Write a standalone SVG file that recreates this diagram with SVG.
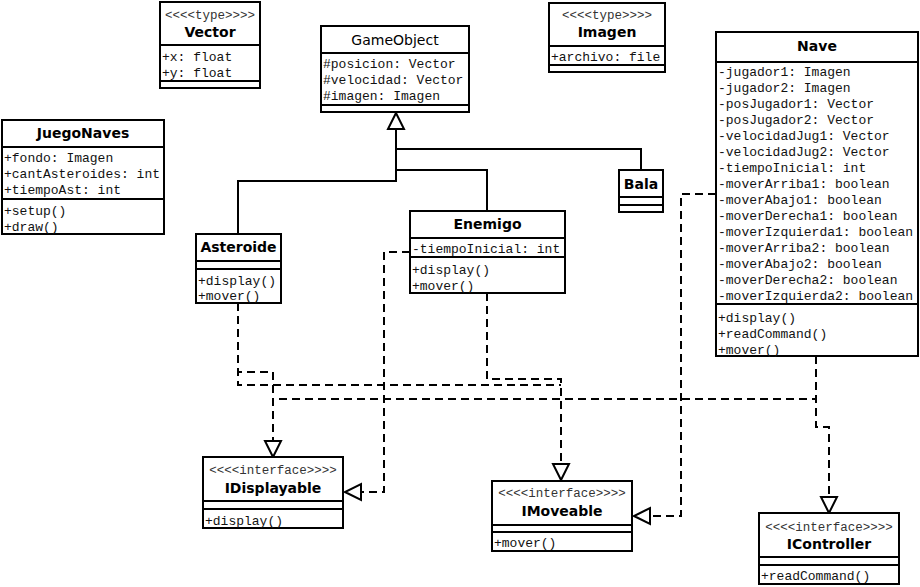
<svg xmlns="http://www.w3.org/2000/svg" width="920" height="587" viewBox="0 0 920 587">
<style>
.box{fill:#fff;stroke:#000;stroke-width:2}
.sep{stroke:#000;stroke-width:2}
.t{font-family:"DejaVu Sans","Liberation Sans",sans-serif;font-weight:bold;font-size:14px;text-anchor:middle;fill:#000}
.tn{font-family:"DejaVu Sans","Liberation Sans",sans-serif;font-size:14px;text-anchor:middle;fill:#000}
.st{font-family:"Liberation Mono","Courier New",monospace;font-size:12.5px;text-anchor:middle;fill:#333}
.m{font-family:"Liberation Mono","Courier New",monospace;font-size:13px;fill:#111}
.gen{fill:none;stroke:#000;stroke-width:2}
.real{fill:none;stroke:#000;stroke-width:2;stroke-dasharray:8 5}
</style>
<defs>
<marker id="tri" markerUnits="userSpaceOnUse" markerWidth="20" markerHeight="20" viewBox="0 0 20 18" refX="17" refY="9" orient="auto">
<path d="M17,9 L1,1 L1,17 Z" fill="#fff" stroke="#000" stroke-width="2" stroke-dasharray="none"/>
</marker>
</defs>

<g id="connectors">
<path class="gen" d="M238,234 V181 H396 V113" marker-end="url(#tri)"/>
<path class="gen" d="M487,211 V170 H396"/>
<path class="gen" d="M641,170 V149 H396"/>
<path class="real" d="M238,303 V372 H273 V457" marker-end="url(#tri)"/>
<path class="real" d="M238,303 V385 H561"/>
<path class="real" d="M487,293 V379 H561 V480" marker-end="url(#tri)"/>
<path class="real" d="M410,252 H384 V492 H345" marker-end="url(#tri)"/>
<path class="real" d="M816,356 V399 H273"/>
<path class="real" d="M716,194 H681 V516 H634" marker-end="url(#tri)"/>
<path class="real" d="M816,356 V427 H829 V513" marker-end="url(#tri)"/>
</g>

<g id="Vector">
<rect class="box" x="160" y="2" width="100" height="86"/>
<line class="sep" x1="160" y1="45" x2="260" y2="45"/>
<line class="sep" x1="160" y1="81" x2="260" y2="81"/>
<text class="st" x="210" y="19">&lt;&lt;&lt;&lt;type&gt;&gt;&gt;&gt;</text>
<text class="t" x="210" y="37">Vector</text>
<text class="m" x="162" y="61">+x: float</text>
<text class="m" x="162" y="77">+y: float</text>
</g>

<g id="JuegoNaves">
<rect class="box" x="2" y="120" width="162" height="114"/>
<line class="sep" x1="2" y1="147" x2="164" y2="147"/>
<line class="sep" x1="2" y1="199" x2="164" y2="199"/>
<text class="t" x="83" y="138">JuegoNaves</text>
<text class="m" x="4" y="162">+fondo: Imagen</text>
<text class="m" x="4" y="178">+cantAsteroides: int</text>
<text class="m" x="4" y="194">+tiempoAst: int</text>
<text class="m" x="4" y="215">+setup()</text>
<text class="m" x="4" y="231">+draw()</text>
</g>

<g id="GameObject">
<rect class="box" x="321" y="26" width="148" height="86"/>
<line class="sep" x1="321" y1="53" x2="469" y2="53"/>
<line class="sep" x1="321" y1="105" x2="469" y2="105"/>
<text class="tn" x="395" y="45">GameObject</text>
<text class="m" x="323" y="68">#posicion: Vector</text>
<text class="m" x="323" y="84">#velocidad: Vector</text>
<text class="m" x="323" y="100">#imagen: Imagen</text>
</g>

<g id="Imagen">
<rect class="box" x="549" y="3" width="116" height="69"/>
<line class="sep" x1="549" y1="46" x2="665" y2="46"/>
<line class="sep" x1="549" y1="65" x2="665" y2="65"/>
<text class="st" x="607" y="19">&lt;&lt;&lt;&lt;type&gt;&gt;&gt;&gt;</text>
<text class="t" x="607" y="37">Imagen</text>
<text class="m" x="551" y="61">+archivo: file</text>
</g>

<g id="Nave">
<rect class="box" x="716" y="32" width="202" height="324"/>
<line class="sep" x1="716" y1="62" x2="918" y2="62"/>
<line class="sep" x1="716" y1="304" x2="918" y2="304"/>
<text class="t" x="817" y="51">Nave</text>
<text class="m" x="718" y="76">-jugador1: Imagen</text>
<text class="m" x="718" y="92">-jugador2: Imagen</text>
<text class="m" x="718" y="108">-posJugador1: Vector</text>
<text class="m" x="718" y="124">-posJugador2: Vector</text>
<text class="m" x="718" y="140">-velocidadJug1: Vector</text>
<text class="m" x="718" y="156">-velocidadJug2: Vector</text>
<text class="m" x="718" y="172">-tiempoInicial: int</text>
<text class="m" x="718" y="188">-moverArriba1: boolean</text>
<text class="m" x="718" y="204">-moverAbajo1: boolean</text>
<text class="m" x="718" y="220">-moverDerecha1: boolean</text>
<text class="m" x="718" y="236">-moverIzquierda1: boolean</text>
<text class="m" x="718" y="252">-moverArriba2: boolean</text>
<text class="m" x="718" y="268">-moverAbajo2: boolean</text>
<text class="m" x="718" y="284">-moverDerecha2: boolean</text>
<text class="m" x="718" y="300">-moverIzquierda2: boolean</text>
<text class="m" x="718" y="322">+display()</text>
<text class="m" x="718" y="338">+readCommand()</text>
<text class="m" x="718" y="354">+mover()</text>
</g>

<g id="Asteroide">
<rect class="box" x="196" y="234" width="85" height="69"/>
<line class="sep" x1="196" y1="261" x2="281" y2="261"/>
<line class="sep" x1="196" y1="269" x2="281" y2="269"/>
<text class="t" x="238.5" y="252">Asteroide</text>
<text class="m" x="198" y="285">+display()</text>
<text class="m" x="198" y="300">+mover()</text>
</g>

<g id="Enemigo">
<rect class="box" x="410" y="211" width="155" height="82"/>
<line class="sep" x1="410" y1="238" x2="565" y2="238"/>
<line class="sep" x1="410" y1="257" x2="565" y2="257"/>
<text class="t" x="487.5" y="229">Enemigo</text>
<text class="m" x="412" y="253">-tiempoInicial: int</text>
<text class="m" x="412" y="274">+display()</text>
<text class="m" x="412" y="290">+mover()</text>
</g>

<g id="Bala">
<rect class="box" x="619" y="170" width="44" height="42"/>
<line class="sep" x1="619" y1="197" x2="663" y2="197"/>
<line class="sep" x1="619" y1="205" x2="663" y2="205"/>
<text class="t" x="641" y="189">Bala</text>
</g>

<g id="IDisplayable">
<rect class="box" x="203" y="457" width="140" height="71"/>
<line class="sep" x1="203" y1="501" x2="343" y2="501"/>
<line class="sep" x1="203" y1="509" x2="343" y2="509"/>
<text class="st" x="273" y="474">&lt;&lt;&lt;&lt;interface&gt;&gt;&gt;&gt;</text>
<text class="t" x="273" y="493">IDisplayable</text>
<text class="m" x="205" y="525">+display()</text>
</g>

<g id="IMoveable">
<rect class="box" x="492" y="481" width="140" height="70"/>
<line class="sep" x1="492" y1="525" x2="632" y2="525"/>
<line class="sep" x1="492" y1="532" x2="632" y2="532"/>
<text class="st" x="562" y="497">&lt;&lt;&lt;&lt;interface&gt;&gt;&gt;&gt;</text>
<text class="t" x="562" y="516">IMoveable</text>
<text class="m" x="494" y="547">+mover()</text>
</g>

<g id="IController">
<rect class="box" x="759" y="513" width="140" height="71"/>
<line class="sep" x1="759" y1="557" x2="899" y2="557"/>
<line class="sep" x1="759" y1="565" x2="899" y2="565"/>
<text class="st" x="829" y="531">&lt;&lt;&lt;&lt;interface&gt;&gt;&gt;&gt;</text>
<text class="t" x="829" y="549">IController</text>
<text class="m" x="761" y="580">+readCommand()</text>
</g>
</svg>
